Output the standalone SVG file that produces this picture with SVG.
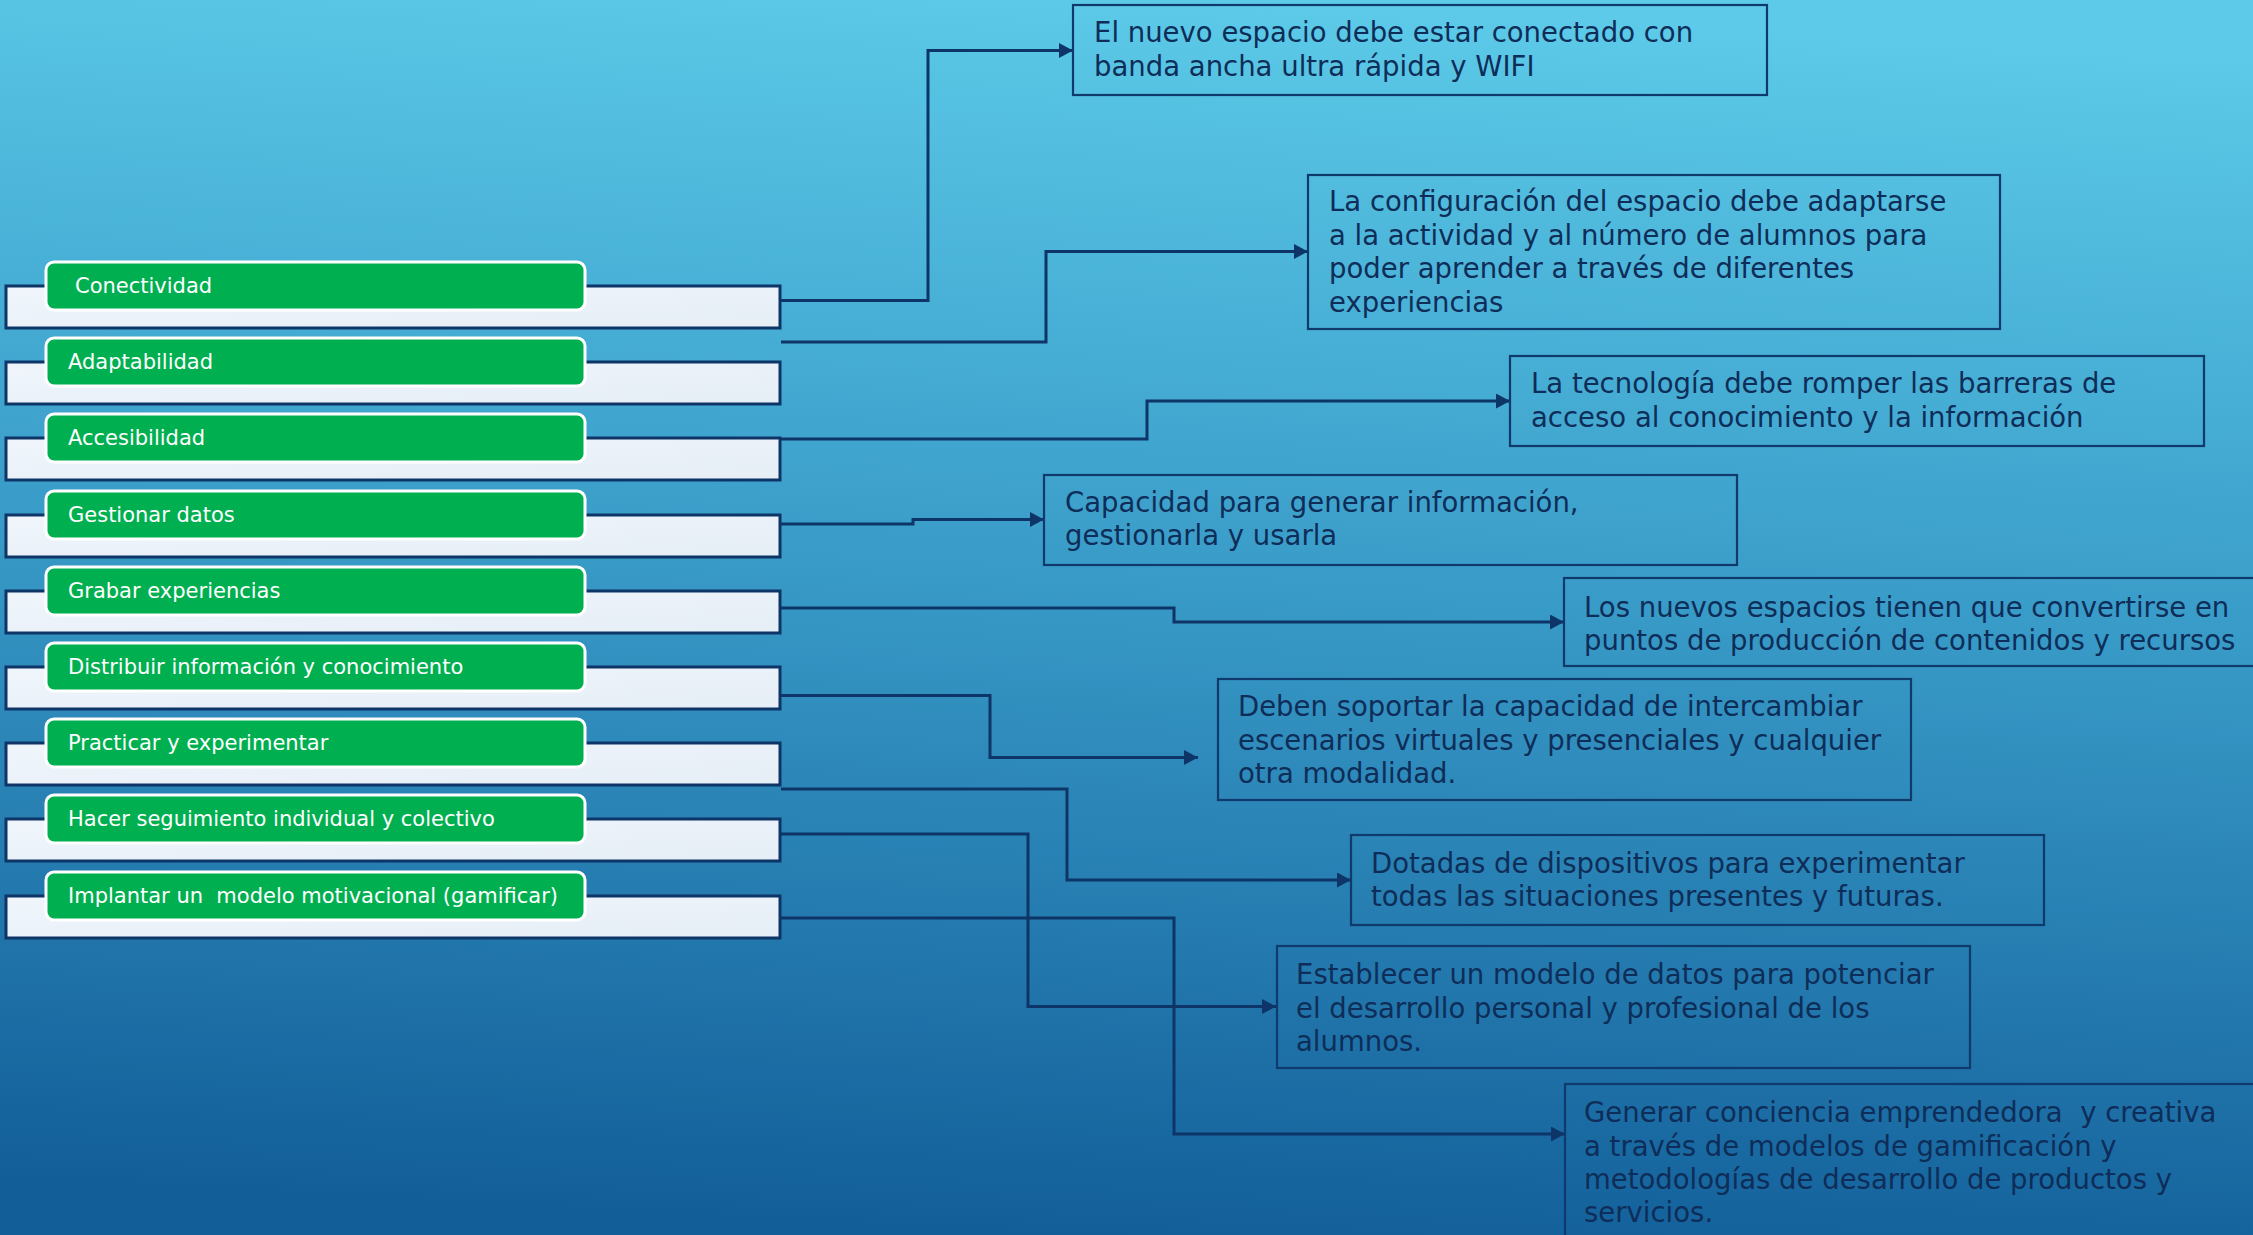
<svg xmlns="http://www.w3.org/2000/svg" width="2253" height="1235" viewBox="0 0 2253 1235">
<defs>
<linearGradient id="bg" x1="0.55" y1="0" x2="0.45" y2="1">
<stop offset="0" stop-color="#5CCAE8"/>
<stop offset="0.45" stop-color="#3A9DC9"/>
<stop offset="1" stop-color="#125E99"/>
</linearGradient>
<linearGradient id="lightfill" x1="0" y1="0" x2="1" y2="1">
<stop offset="0" stop-color="#EFF5FB"/>
<stop offset="1" stop-color="#E6EEF6"/>
</linearGradient>
<marker id="arrow" markerUnits="userSpaceOnUse" markerWidth="16" markerHeight="16" refX="14" refY="7.5" orient="auto">
<path d="M0,0 L14,7.5 L0,15 z" fill="#0E3567"/>
</marker>
<style>
.light{fill:url(#lightfill);stroke:#0E3567;stroke-width:3}
.green{fill:#00B050;stroke:#FFFFFF;stroke-width:3}
.gtxt{font-family:"DejaVu Sans",sans-serif;font-size:21px;fill:#FFFFFF;white-space:pre}
.rbox{fill:none;stroke:#103A6B;stroke-width:2.2}
.rtxt{font-family:"DejaVu Sans",sans-serif;font-size:27.5px;fill:#0E2D58;white-space:pre}
.conn{fill:none;stroke:#0E3567;stroke-width:3;marker-end:url(#arrow)}
</style>
</defs>
<rect x="0" y="0" width="2253" height="1235" fill="url(#bg)"/>

<g id="connectors">
<path class="conn" d="M781,300.5 H928 V50.5 H1073"/>
<path class="conn" d="M781,342 H1046 V251.5 H1308"/>
<path class="conn" d="M781,439 H1147 V401 H1510"/>
<path class="conn" d="M781,524 H913 V519.5 H1044"/>
<path class="conn" d="M781,608 H1174 V622 H1564"/>
<path class="conn" d="M781,695.5 H990 V757.5 H1198"/>
<path class="conn" d="M781,789 H1067 V880 H1351"/>
<path class="conn" d="M781,834 H1028 V1006.5 H1276"/>
<path class="conn" d="M781,918 H1174 V1134 H1565"/>
</g>

<g id="n-conectividad">
<rect class="light" x="6" y="286" width="774" height="42"/>
<rect class="green" x="46" y="262" width="539" height="48" rx="8"/>
<text class="gtxt" x="75" y="293">Conectividad</text>
</g>
<g id="n-adaptabilidad">
<rect class="light" x="6" y="362" width="774" height="42"/>
<rect class="green" x="46" y="338" width="539" height="48" rx="8"/>
<text class="gtxt" x="68" y="369">Adaptabilidad</text>
</g>
<g id="n-accesibilidad">
<rect class="light" x="6" y="438" width="774" height="42"/>
<rect class="green" x="46" y="414" width="539" height="48" rx="8"/>
<text class="gtxt" x="68" y="445">Accesibilidad</text>
</g>
<g id="n-gestionar">
<rect class="light" x="6" y="515" width="774" height="42"/>
<rect class="green" x="46" y="491" width="539" height="48" rx="8"/>
<text class="gtxt" x="68" y="522">Gestionar datos</text>
</g>
<g id="n-grabar">
<rect class="light" x="6" y="591" width="774" height="42"/>
<rect class="green" x="46" y="567" width="539" height="48" rx="8"/>
<text class="gtxt" x="68" y="598">Grabar experiencias</text>
</g>
<g id="n-distribuir">
<rect class="light" x="6" y="667" width="774" height="42"/>
<rect class="green" x="46" y="643" width="539" height="48" rx="8"/>
<text class="gtxt" x="68" y="674">Distribuir información y conocimiento</text>
</g>
<g id="n-practicar">
<rect class="light" x="6" y="743" width="774" height="42"/>
<rect class="green" x="46" y="719" width="539" height="48" rx="8"/>
<text class="gtxt" x="68" y="750">Practicar y experimentar</text>
</g>
<g id="n-seguimiento">
<rect class="light" x="6" y="819" width="774" height="42"/>
<rect class="green" x="46" y="795" width="539" height="48" rx="8"/>
<text class="gtxt" x="68" y="826">Hacer seguimiento individual y colectivo</text>
</g>
<g id="n-implantar">
<rect class="light" x="6" y="896" width="774" height="42"/>
<rect class="green" x="46" y="872" width="539" height="48" rx="8"/>
<text class="gtxt" x="68" y="903">Implantar un  modelo motivacional (gamificar)</text>
</g>

<g id="r-banda">
<rect class="rbox" x="1073" y="5" width="694" height="90"/>
<text class="rtxt" x="1094" y="42">El nuevo espacio debe estar conectado con</text>
<text class="rtxt" x="1094" y="76">banda ancha ultra rápida y WIFI</text>
</g>
<g id="r-configuracion">
<rect class="rbox" x="1308" y="175" width="692" height="154"/>
<text class="rtxt" x="1329" y="211">La configuración del espacio debe adaptarse</text>
<text class="rtxt" x="1329" y="244.5">a la actividad y al número de alumnos para</text>
<text class="rtxt" x="1329" y="278">poder aprender a través de diferentes</text>
<text class="rtxt" x="1329" y="311.5">experiencias</text>
</g>
<g id="r-tecnologia">
<rect class="rbox" x="1510" y="356" width="694" height="90"/>
<text class="rtxt" x="1531" y="393">La tecnología debe romper las barreras de</text>
<text class="rtxt" x="1531" y="427">acceso al conocimiento y la información</text>
</g>
<g id="r-capacidad">
<rect class="rbox" x="1044" y="475" width="693" height="90"/>
<text class="rtxt" x="1065" y="512">Capacidad para generar información,</text>
<text class="rtxt" x="1065" y="545">gestionarla y usarla</text>
</g>
<g id="r-produccion">
<rect class="rbox" x="1564" y="578" width="700" height="88"/>
<text class="rtxt" x="1584" y="617">Los nuevos espacios tienen que convertirse en</text>
<text class="rtxt" x="1584" y="650">puntos de producción de contenidos y recursos</text>
</g>
<g id="r-escenarios">
<rect class="rbox" x="1218" y="679" width="693" height="121"/>
<text class="rtxt" x="1238" y="716">Deben soportar la capacidad de intercambiar</text>
<text class="rtxt" x="1238" y="749.5">escenarios virtuales y presenciales y cualquier</text>
<text class="rtxt" x="1238" y="783">otra modalidad.</text>
</g>
<g id="r-dispositivos">
<rect class="rbox" x="1351" y="835" width="693" height="90"/>
<text class="rtxt" x="1371" y="873">Dotadas de dispositivos para experimentar</text>
<text class="rtxt" x="1371" y="906">todas las situaciones presentes y futuras.</text>
</g>
<g id="r-datos">
<rect class="rbox" x="1277" y="946" width="693" height="122"/>
<text class="rtxt" x="1296" y="984">Establecer un modelo de datos para potenciar</text>
<text class="rtxt" x="1296" y="1017.5">el desarrollo personal y profesional de los</text>
<text class="rtxt" x="1296" y="1051">alumnos.</text>
</g>
<g id="r-emprendedora">
<rect class="rbox" x="1565" y="1084" width="700" height="170"/>
<text class="rtxt" x="1584" y="1122">Generar conciencia emprendedora  y creativa</text>
<text class="rtxt" x="1584" y="1155.5">a través de modelos de gamificación y</text>
<text class="rtxt" x="1584" y="1189">metodologías de desarrollo de productos y</text>
<text class="rtxt" x="1584" y="1222">servicios.</text>
</g>
</svg>
